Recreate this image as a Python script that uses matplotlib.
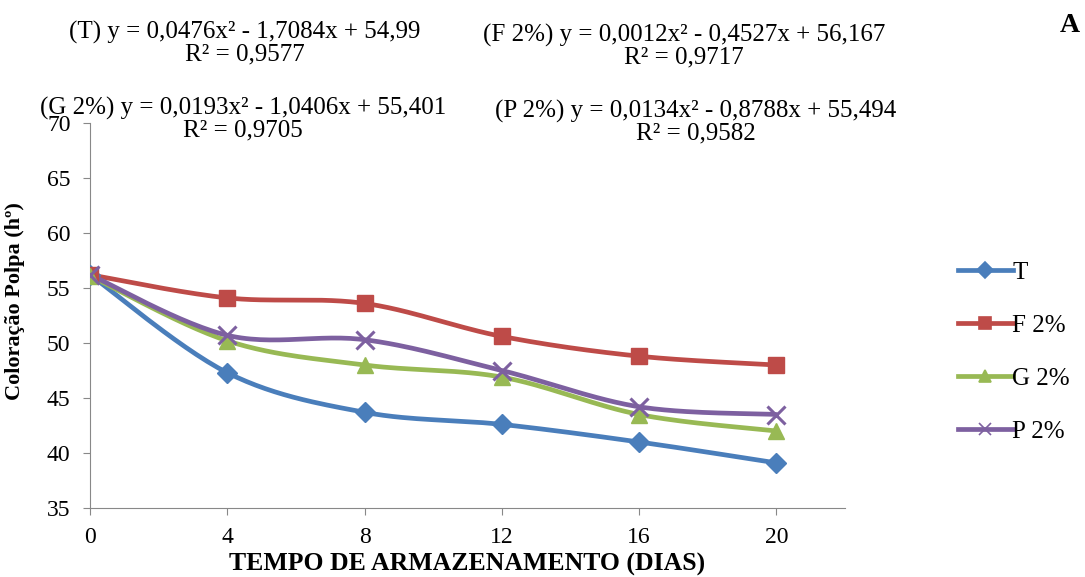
#! /usr/bin/env python3

import numpy as np
import matplotlib
matplotlib.use('Agg')
import matplotlib.pyplot as plt
from matplotlib.lines import Line2D

plt.rcParams['font.family'] = ['Liberation Serif', 'DejaVu Serif']

# storage days and hue angle per treatment
dias = [0, 4, 8, 12, 16, 20]
T = [56.2, 47.3, 43.7, 42.6, 41.0, 39.1]
F2 = [56.2, 54.1, 53.6, 50.6, 48.8, 48.0]
G2 = [56.1, 50.2, 48.0, 46.9, 43.5, 42.0]
P2 = [56.2, 50.7, 50.3, 47.5, 44.2, 43.5]

nomes = ['T', 'F 2%', 'G 2%', 'P 2%']
cores = ['#4A7EBB', '#BE4B48', '#98B954', '#7D60A0']
marcadores = ['D', 's', '^', 'x']

equacoes = ['(T) y = 0,0476x² - 1,7084x + 54,99\nR² = 0,9577',
            '(F 2%) y = 0,0012x² - 0,4527x + 56,167\nR² = 0,9717',
            '(G 2%) y = 0,0193x² - 1,0406x + 55,401\nR² = 0,9705',
            '(P 2%) y = 0,0134x² - 0,8788x + 55,494\nR² = 0,9582']

def suaviza(x, y, n=30):
	# bezier smoothing through each point (catmull-rom style)
	x = np.asarray(x, float); y = np.asarray(y, float)
	px = np.concatenate(([x[0]], x, [x[-1]]))
	py = np.concatenate(([y[0]], y, [y[-1]]))
	xs, ys = [], []
	t = np.linspace(0, 1, n)
	for i in range(1, len(px) - 2):
		p0 = np.array([px[i], py[i]])
		p3 = np.array([px[i+1], py[i+1]])
		c1 = p0 + (np.array([px[i+1], py[i+1]]) - np.array([px[i-1], py[i-1]])) / 6
		c2 = p3 - (np.array([px[i+2], py[i+2]]) - np.array([px[i], py[i]])) / 6
		b = ((1-t)**3)[:, None]*p0 + (3*(1-t)**2*t)[:, None]*c1 + (3*(1-t)*t**2)[:, None]*c2 + (t**3)[:, None]*p3
		xs.extend(b[:, 0]); ys.extend(b[:, 1])
	return xs, ys

fig = plt.figure(figsize=(10.85, 5.77), dpi=100)
ax = fig.add_axes([90/1085, 69/577, 755/1085, 385/577])

series = [T, F2, G2, P2]
handles = []
for s, nome, cor, m in zip(series, nomes, cores, marcadores):
	xs, ys = suaviza(dias, s)
	ax.plot(xs, ys, color=cor, lw=3.4, solid_capstyle='round', zorder=2)
	if m == 'x':
		ax.plot(dias, s, ls='none', marker=m, ms=13, mew=2.2, color=cor, zorder=3)
	else:
		ax.plot(dias, s, ls='none', marker=m, ms=11.5 if m != 'D' else 10.5, color=cor, zorder=3)
	handles.append(Line2D([], [], color=cor, lw=3.4, marker=m, ms=8.5, mew=1.2))

ax.set_xlim(0, 22)
ax.set_ylim(35, 70)
ax.set_xticks(dias)
ax.set_yticks(range(35, 71, 5))
ax.tick_params(labelsize=17, direction='out', length=5, color='#888888', pad=9)
for lado in ['top', 'right']:
	ax.spines[lado].set_visible(False)
for lado in ['left', 'bottom']:
	ax.spines[lado].set_color('#888888')

ax.set_xlabel('TEMPO DE ARMAZENAMENTO (DIAS)', fontsize=18.5, fontweight='bold', labelpad=3)
ax.set_ylabel('Coloração Polpa (hº)', fontsize=16, fontweight='bold')
ax.yaxis.set_label_coords(-0.086, 0.538)

fig.legend(handles=handles, labels=nomes, loc='center left', bbox_to_anchor=(935/1085, 1 - 352/577),
           frameon=False, fontsize=18, labelspacing=1.22, handlelength=2.2, handletextpad=0.0)

pos = [(245, 43), (684, 46), (243, 119), (696, 122)]
for eq, (px, py) in zip(equacoes, pos):
	fig.text(px/1085, 1 - py/577, eq, ha='center', va='center', fontsize=18, linespacing=1.0)

fig.text(1070/1085, 1 - 25/577, 'A', ha='center', va='center', fontsize=20, fontweight='bold')

fig.savefig('out.png', dpi=100)
